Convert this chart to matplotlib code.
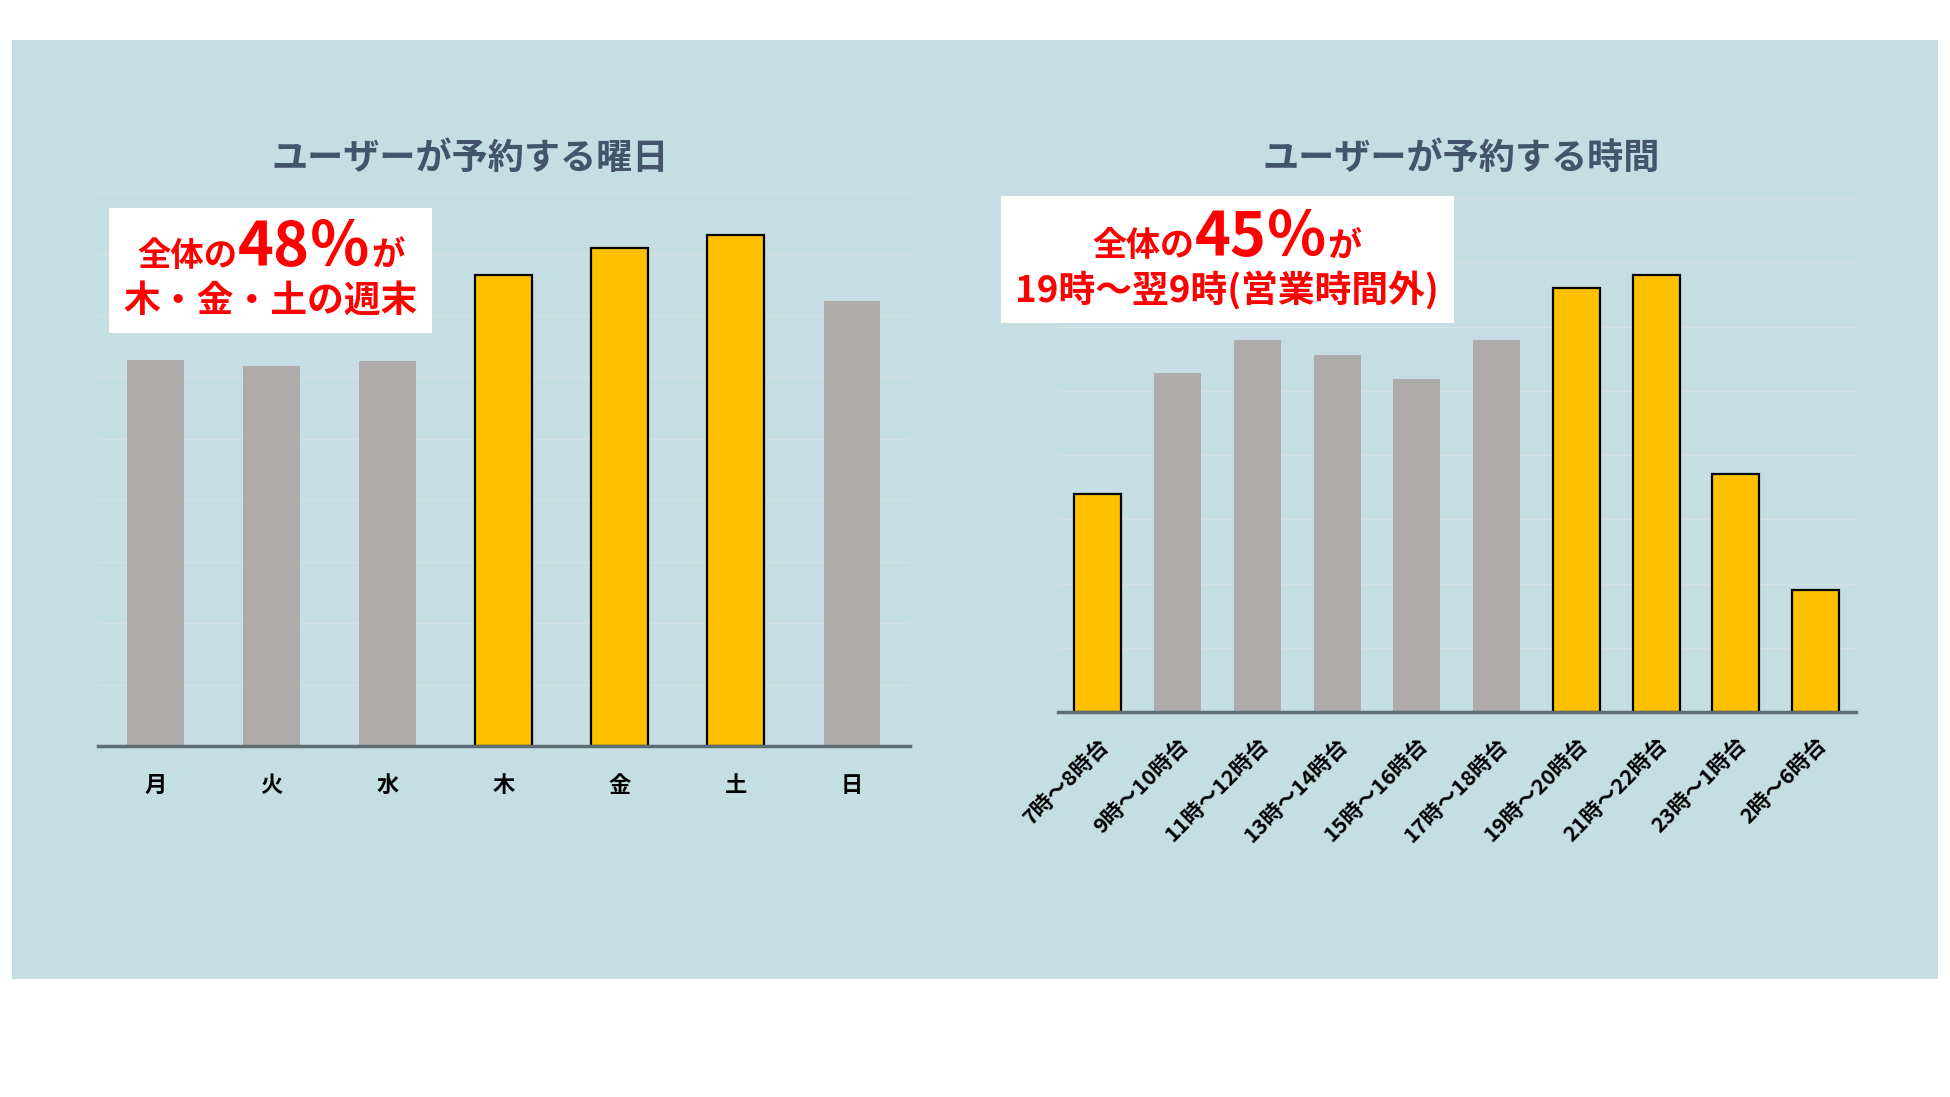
import matplotlib
matplotlib.use("Agg")
import matplotlib.pyplot as plt
from matplotlib.patches import Rectangle

plt.rcParams['font.family'] = ['Noto Sans CJK JP', 'DejaVu Sans']

# data (share of bookings, %)
days = ['月', '火', '水', '木', '金', '土', '日']
day_share = [12.56, 12.38, 12.52, 15.32, 16.22, 16.62, 14.48]
day_hi = [False, False, False, True, True, True, False]

hours = ['7時～8時台', '9時～10時台', '11時～12時台', '13時～14時台', '15時～16時台',
         '17時～18時台', '19時～20時台', '21時～22時台', '23時～1時台', '2時～6時台']
hour_share = [6.78, 10.54, 11.58, 11.12, 10.38, 11.58, 13.2, 13.6, 7.4, 3.8]
hour_hi = [True, False, False, False, False, False, True, True, True, True]

title_day = 'ユーザーが予約する曜日'
title_hour = 'ユーザーが予約する時間'

W, H = 1950, 1097
BG = '#C5DEE3'
GRAY = '#AFABAB'
YEL = '#FFC000'
RED = '#FF0000'
TITLE_C = '#44546A'

fig = plt.figure(figsize=(W / 100, H / 100), dpi=100)
fig.patch.set_facecolor('white')
fig.patches.append(Rectangle((12 / W, 1 - 979 / H), (1938 - 12) / W, (979 - 40) / H,
                             transform=fig.transFigure, facecolor=BG, edgecolor='none', zorder=-1))


def style_axes(ax, ymax, step):
    ax.set_facecolor('none')
    for s in ['top', 'right', 'left']:
        ax.spines[s].set_visible(False)
    ax.spines['bottom'].set_color('#5E6E74')
    ax.spines['bottom'].set_linewidth(2.5)
    ax.spines['bottom'].set_zorder(4)
    ax.set_ylim(0, ymax)
    ax.set_yticks([v * step for v in range(1, int(ymax / step) + 1)])
    ax.set_yticklabels([])
    ax.tick_params(axis='y', length=0)
    ax.tick_params(axis='x', length=0)
    ax.yaxis.grid(True, color='#D3E1E4', linewidth=1.0)
    ax.set_axisbelow(True)


def px_axes(x0, x1, y_top, y_axis):
    return fig.add_axes([x0 / W, 1 - y_axis / H, (x1 - x0) / W, (y_axis - y_top) / H])


# left chart: weekdays
ax1 = px_axes(97.5, 910, 193, 746)
style_axes(ax1, 18, 2)
c1 = [YEL if h else GRAY for h in day_hi]
e1 = ['black' if h else 'none' for h in day_hi]
ax1.bar(range(len(days)), day_share, width=0.49, color=c1, edgecolor=e1, linewidth=1.6, zorder=3)
ax1.set_xlim(-0.5, len(days) - 0.5)
ax1.set_xticks(range(len(days)))
ax1.set_xticklabels(days, fontsize=16, fontweight='bold', color='black')
ax1.tick_params(axis='x', pad=20)

# right chart: hours
ax2 = px_axes(1058, 1855.5, 198, 712)
style_axes(ax2, 16, 2)
c2 = [YEL if h else GRAY for h in hour_hi]
e2 = ['black' if h else 'none' for h in hour_hi]
ax2.bar(range(len(hours)), hour_share, width=0.59, color=c2, edgecolor=e2, linewidth=1.6, zorder=3)
ax2.set_xlim(-0.5, len(hours) - 0.5)
ax2.set_xticks(range(len(hours)))
ax2.set_xticklabels(hours, fontsize=15.5, fontweight='bold', color='black',
                    rotation=45, ha='right', va='top', rotation_mode='anchor')
ax2.tick_params(axis='x', pad=16)

# titles
fig.text(470 / W, 1 - 158 / H, title_day, fontsize=26, fontweight='bold', color=TITLE_C,
         ha='center', va='center')
fig.text(1461 / W, 1 - 158 / H, title_hour, fontsize=26, fontweight='bold', color=TITLE_C,
         ha='center', va='center')

# callout boxes
fig.patches.append(Rectangle((109 / W, 1 - 333 / H), (432 - 109) / W, (333 - 208) / H,
                             transform=fig.transFigure, facecolor='white', edgecolor='none', zorder=5))
fig.patches.append(Rectangle((1001 / W, 1 - 323 / H), (1454 - 1001) / W, (323 - 196) / H,
                             transform=fig.transFigure, facecolor='white', edgecolor='none', zorder=5))

renderer = fig.canvas.get_renderer()


def mixed_line(xc, y_base, parts):
    # parts: (text, fontsize), laid out left to right and centred on xc (pixels)
    txts = [fig.text(0, 1 - y_base / H, s, fontsize=sz, color=RED, fontweight='bold',
                     va='baseline', ha='left', zorder=6) for s, sz in parts]
    widths = [t.get_window_extent(renderer).width for t in txts]
    x = xc - sum(widths) / 2
    for t, w in zip(txts, widths):
        t.set_x(x / W)
        x += w


mixed_line(271, 266, [('全体の', 24), ('48％', 44), ('が', 24)])
fig.text(271 / W, 1 - 301 / H, '木・金・土の週末', fontsize=26.5, color=RED, fontweight='bold',
         ha='center', va='center', zorder=6)

mixed_line(1227, 256, [('全体の', 24.5), ('45％', 44), ('が', 24.5)])
fig.text(1227 / W, 1 - 291 / H, '19時～翌9時(営業時間外)', fontsize=26.5, color=RED, fontweight='bold',
         ha='center', va='center', zorder=6)

fig.savefig('out.png', dpi=100, facecolor=fig.get_facecolor())
